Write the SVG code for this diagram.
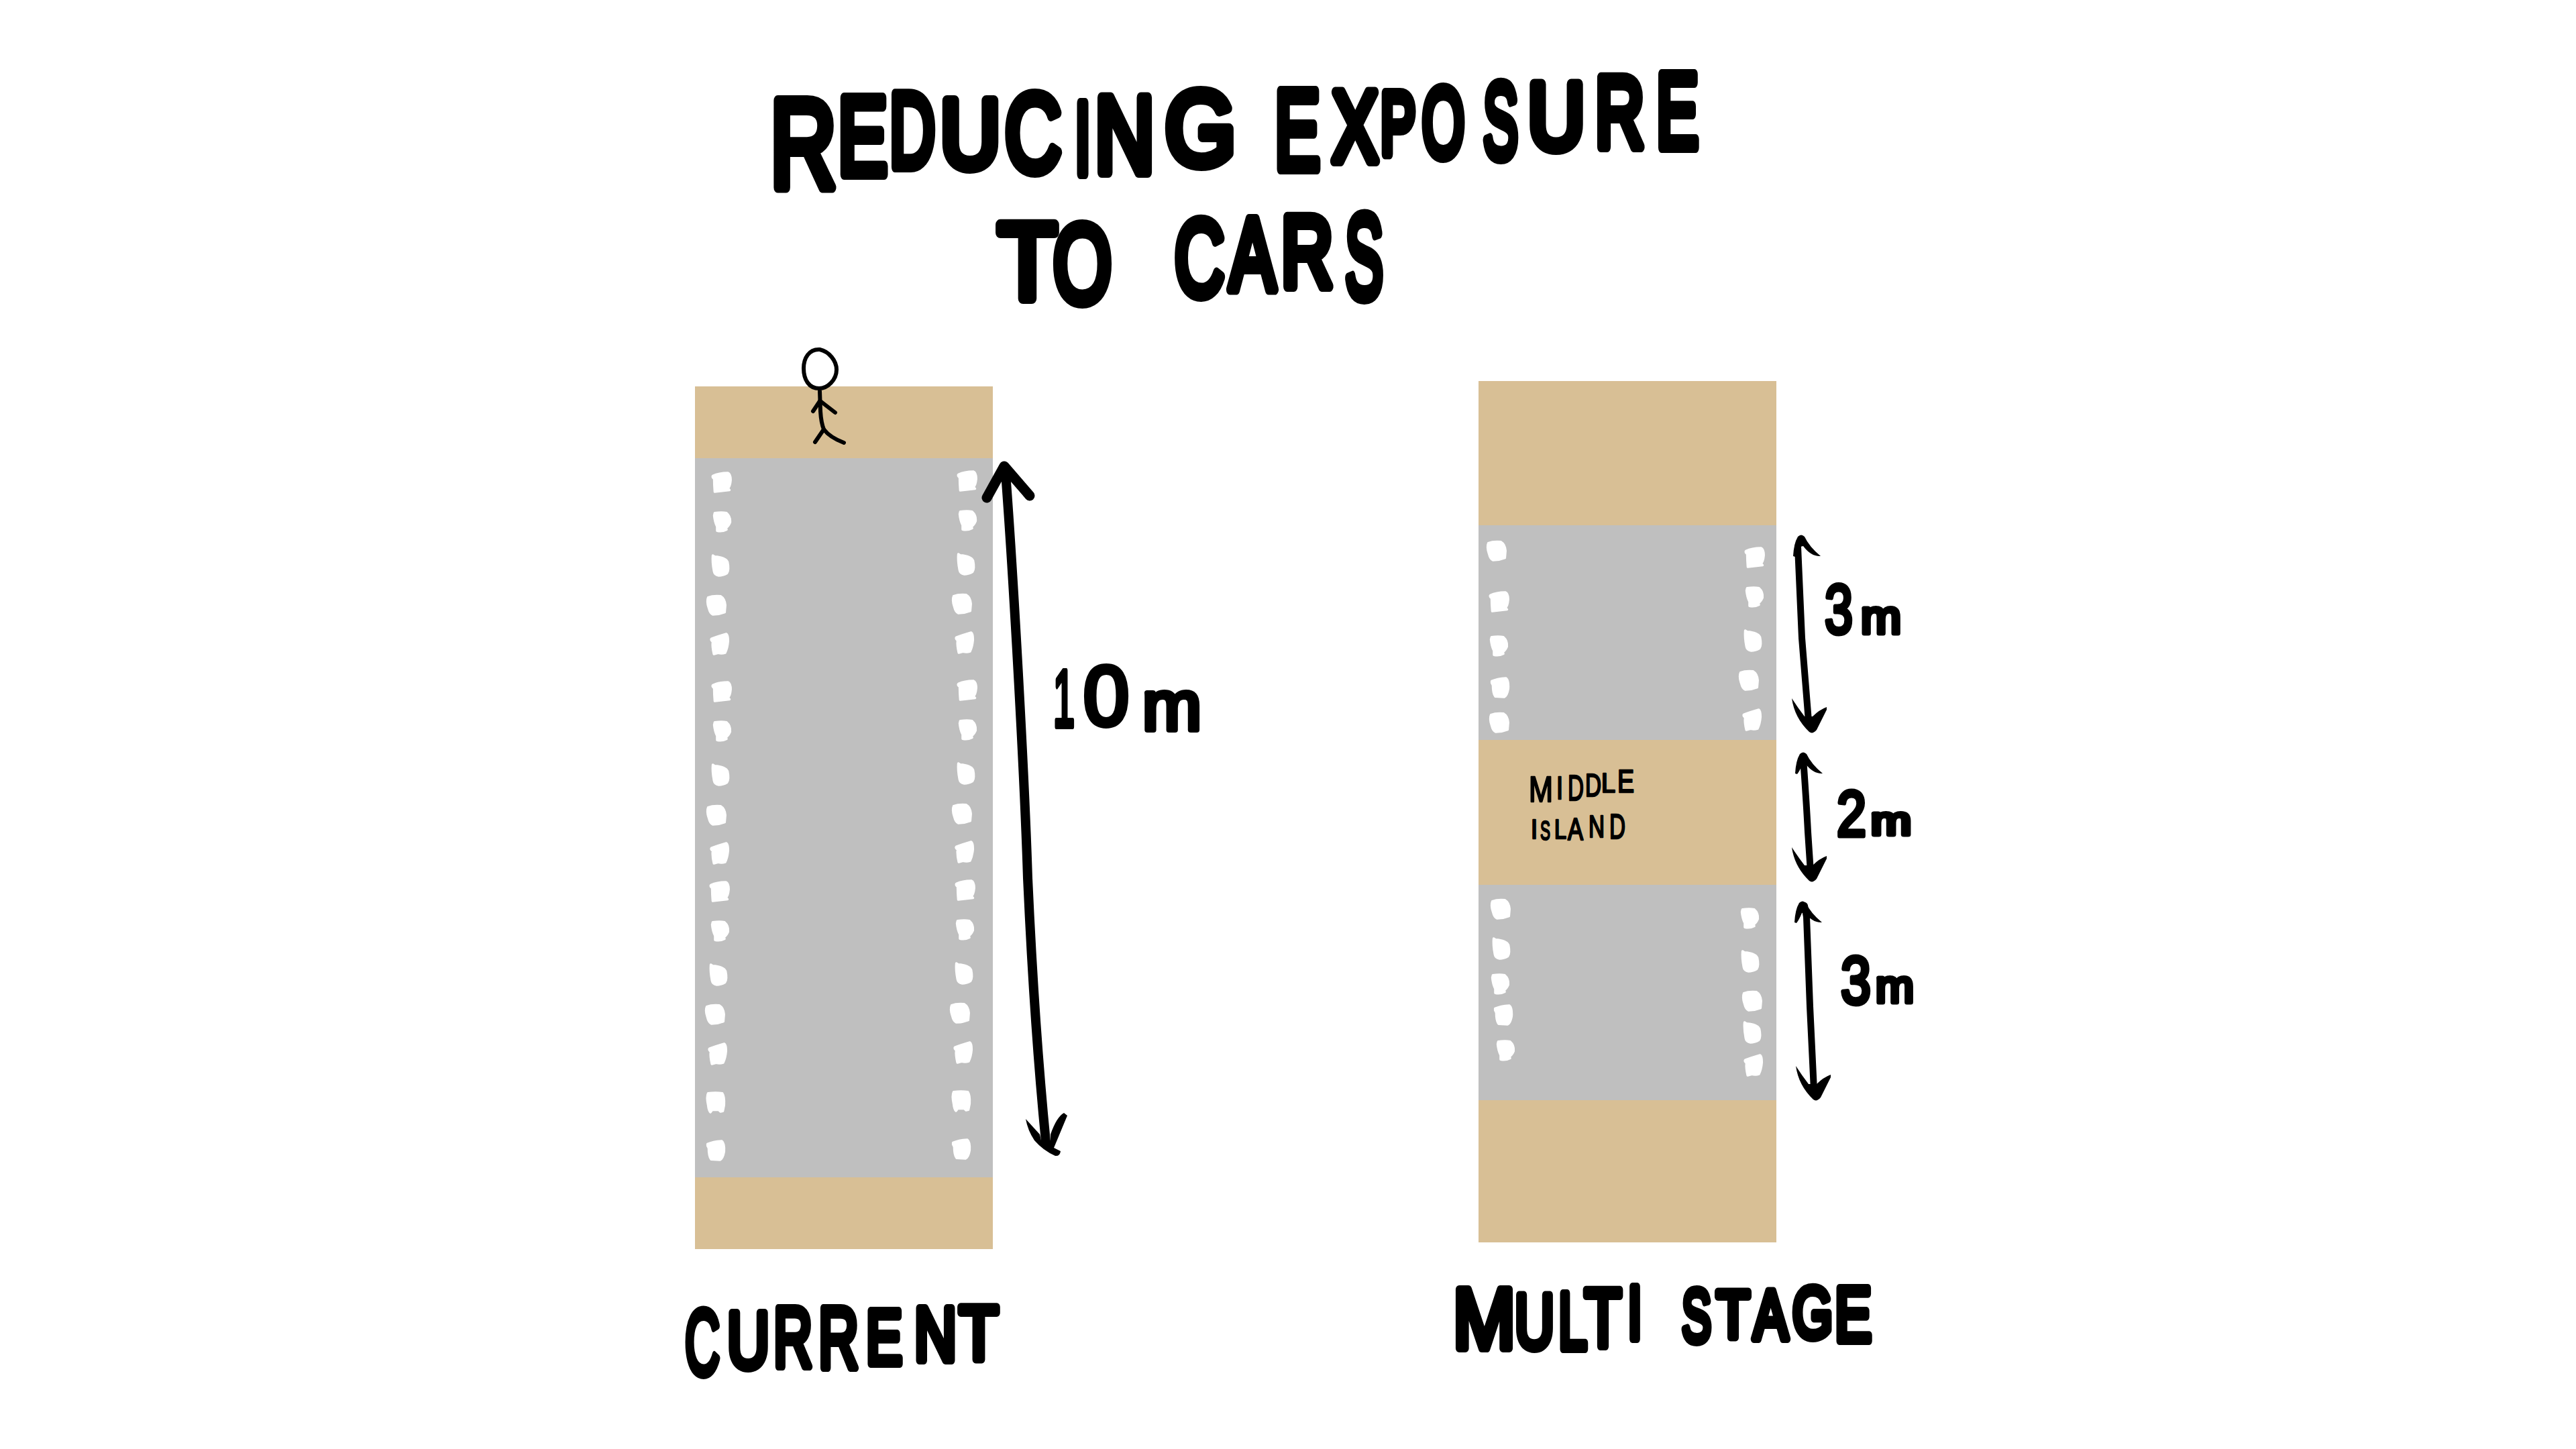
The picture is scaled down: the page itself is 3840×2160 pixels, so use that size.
<svg xmlns="http://www.w3.org/2000/svg" width="3840" height="2160" viewBox="0 0 3840 2160">
<style>
.tan{fill:#d8bf95}.grey{fill:#bfbfbf}
.dot{fill:#fff;stroke:#fff;stroke-width:4;stroke-linejoin:round}
.ink{fill:#000}.line{fill:none;stroke:#000;stroke-linecap:round;stroke-linejoin:round}
text{font-family:"Liberation Sans",Arial,sans-serif;fill:#000;stroke:#000;stroke-linejoin:round;stroke-linecap:round}
.big{stroke-width:16}.lab{stroke-width:12}
.num{stroke-width:7}.small{stroke-width:2.5}
</style>
<defs>
<path id="d1" transform="scale(.88)" d="M-15-11Q-5-16 10-16Q15-14 15-4Q14 8 10 10L13 13L-12 16Q-13 4-13-6Q-17-9-15-11Z"/>
<path id="d2" transform="scale(.88)" d="M-12-15Q0-17 8-15Q15-9 14 1Q11 8 7 10L8 13Q0 17-8 15L-8 8Q-12 0-13-11Z"/>
<path id="d3" transform="scale(.88)" d="M-13-17L-10-15Q8-14 12-6Q15 8 11 13Q4 17-3 17Q-10 16-11 10Q-14-6-13-17Z"/>
<path id="d4" transform="scale(.88)" d="M-14-13Q-6-16 7-15Q14-11 15 0L14 12Q4 16-6 16Q-11 14-13 5Q-17-6-14-13Z"/>
<path id="d5" transform="scale(.88)" d="M-14-9Q-6-12 11-17Q14-15 14-5Q13 7 9 15Q3 17-3 15L-10 17Q-13 5-12-4Q-16-7-14-9Z"/>
<path id="d6" transform="scale(.88)" d="M-13-15Q0-17 11-15Q15-9 14 5L12 15L8 16L5 13L-6 13L-9 17Q-12 15-13 5Q-16-9-13-15Z"/>
<path id="d7" transform="scale(.88)" d="M-14-11Q-5-15 10-16Q15-12 14 2Q12 14 7 16L-8 15Q-12 10-12-4L-14-8Z"/>
<path id="head-top" d="M-12 32Q-11 13-5 3Q0-2 5 3Q12 18 29 32Q15 33 3 17L-1 18Q-5 28-9 33Z"/>
<path id="head-bot" d="M-29-51Q-20-37-10-24L2-24Q12-34 23-38L23-34L8-4Q2 3-3-1Q-25-22-29-51Z"/>
</defs>
<rect width="3840" height="2160" fill="#fff"/>

<g id="title">
<text class="big"><tspan x="1148" y="280" font-size="187" textLength="99" lengthAdjust="spacingAndGlyphs">R</tspan><tspan x="1249" y="260" font-size="165" textLength="74" lengthAdjust="spacingAndGlyphs">E</tspan><tspan x="1326" y="249" font-size="158" textLength="68" lengthAdjust="spacingAndGlyphs">D</tspan><tspan x="1402" y="250" font-size="145" textLength="89" lengthAdjust="spacingAndGlyphs">U</tspan><tspan x="1498" y="255" font-size="165" textLength="84" lengthAdjust="spacingAndGlyphs">C</tspan><tspan x="1602" y="259" font-size="153" textLength="24" lengthAdjust="spacingAndGlyphs">I</tspan><tspan x="1632" y="257" font-size="161" textLength="89" lengthAdjust="spacingAndGlyphs">N</tspan><tspan x="1737" y="245" font-size="155" textLength="105" lengthAdjust="spacingAndGlyphs">G</tspan> <tspan x="1900" y="252" font-size="168" textLength="68" lengthAdjust="spacingAndGlyphs">E</tspan><tspan x="1986" y="240" font-size="148" textLength="68" lengthAdjust="spacingAndGlyphs">X</tspan><tspan x="2058" y="229" font-size="131" textLength="52" lengthAdjust="spacingAndGlyphs">P</tspan><tspan x="2120" y="234" font-size="146" textLength="63" lengthAdjust="spacingAndGlyphs">O</tspan><tspan x="2211" y="235" font-size="159" textLength="52" lengthAdjust="spacingAndGlyphs">S</tspan><tspan x="2278" y="222" font-size="139" textLength="84" lengthAdjust="spacingAndGlyphs">U</tspan><tspan x="2378" y="219" font-size="150" textLength="73" lengthAdjust="spacingAndGlyphs">R</tspan><tspan x="2469" y="220" font-size="158" textLength="63" lengthAdjust="spacingAndGlyphs">E</tspan></text>
<text class="big"><tspan x="1488" y="445" font-size="159" textLength="87" lengthAdjust="spacingAndGlyphs">T</tspan><tspan x="1570" y="450" font-size="166" textLength="87" lengthAdjust="spacingAndGlyphs">O</tspan> <tspan x="1751" y="440" font-size="162" textLength="74" lengthAdjust="spacingAndGlyphs">C</tspan><tspan x="1833" y="432" font-size="153" textLength="68" lengthAdjust="spacingAndGlyphs">A</tspan><tspan x="1910" y="427" font-size="150" textLength="77" lengthAdjust="spacingAndGlyphs">R</tspan><tspan x="2005" y="444" font-size="178" textLength="57" lengthAdjust="spacingAndGlyphs">S</tspan></text>
</g>

<g id="road-current">
<rect class="tan" x="1036" y="576" width="444" height="107"/>
<rect class="grey" x="1036" y="683" width="444" height="1072"/>
<rect class="tan" x="1036" y="1755" width="444" height="107"/>
<g class="dot">
<use href="#d1" x="1076" y="719"/><use href="#d2" x="1076" y="778"/><use href="#d3" x="1074" y="843"/><use href="#d4" x="1068" y="902"/><use href="#d5" x="1073" y="960"/><use href="#d1" x="1076" y="1031"/><use href="#d2" x="1076" y="1090"/><use href="#d3" x="1074" y="1155"/><use href="#d4" x="1068" y="1215"/><use href="#d5" x="1073" y="1272"/><use href="#d1" x="1073" y="1329"/><use href="#d2" x="1073" y="1388"/><use href="#d3" x="1071" y="1453"/><use href="#d4" x="1066" y="1512"/><use href="#d5" x="1070" y="1571"/><use href="#d6" x="1067" y="1643"/><use href="#d7" x="1067" y="1715"/>
<use href="#d1" x="1442" y="717"/><use href="#d2" x="1442" y="776"/><use href="#d3" x="1440" y="841"/><use href="#d4" x="1434" y="900"/><use href="#d5" x="1438" y="958"/><use href="#d1" x="1442" y="1029"/><use href="#d2" x="1442" y="1088"/><use href="#d3" x="1440" y="1153"/><use href="#d4" x="1434" y="1213"/><use href="#d5" x="1438" y="1270"/><use href="#d1" x="1439" y="1327"/><use href="#d2" x="1438" y="1386"/><use href="#d3" x="1437" y="1451"/><use href="#d4" x="1431" y="1510"/><use href="#d5" x="1436" y="1569"/><use href="#d6" x="1433" y="1641"/><use href="#d7" x="1433" y="1713"/>
</g>
</g>

<g id="person" class="line" stroke-width="6">
<path d="M1222 521C1236 524 1247 538 1247 551C1247 566 1234 579 1221 579C1206 579 1198 566 1198 549C1198 534 1206 520 1222 521Z"/>
<path d="M1222 583L1223 613Q1224 630 1228 640"/>
<path d="M1222 598L1212 613M1223 598L1245 615"/>
<path d="M1228 640L1215 659M1228 640Q1237 652 1258 660"/>
</g>

<g id="road-multi">
<rect class="tan" x="2204" y="568" width="444" height="215"/>
<rect class="grey" x="2204" y="783" width="444" height="320"/>
<rect class="tan" x="2204" y="1103" width="444" height="216"/>
<rect class="grey" x="2204" y="1319" width="444" height="321"/>
<rect class="tan" x="2204" y="1640" width="444" height="212"/>
<g class="dot">
<use href="#d4" x="2231" y="821"/><use href="#d1" x="2235" y="897"/><use href="#d2" x="2234" y="963"/><use href="#d7" x="2236" y="1025"/><use href="#d4" x="2235" y="1077"/>
<use href="#d1" x="2616" y="831"/><use href="#d2" x="2615" y="890"/><use href="#d3" x="2613" y="955"/><use href="#d4" x="2607" y="1014"/><use href="#d5" x="2612" y="1073"/>
<use href="#d4" x="2237" y="1355"/><use href="#d3" x="2238" y="1414"/><use href="#d2" x="2236" y="1467"/><use href="#d7" x="2241" y="1513"/><use href="#d2" x="2244" y="1566"/>
<use href="#d2" x="2608" y="1369"/><use href="#d3" x="2609" y="1433"/><use href="#d4" x="2612" y="1492"/><use href="#d3" x="2612" y="1539"/><use href="#d5" x="2614" y="1588"/>
</g>
</g>

<g id="label-middle-island">
<text class="small"><tspan x="2279" y="1195" font-size="54" textLength="36" lengthAdjust="spacingAndGlyphs">M</tspan><tspan x="2320" y="1191" font-size="48" textLength="10" lengthAdjust="spacingAndGlyphs">I</tspan><tspan x="2337" y="1193" font-size="54" textLength="24" lengthAdjust="spacingAndGlyphs">D</tspan><tspan x="2363" y="1187" font-size="48" textLength="24" lengthAdjust="spacingAndGlyphs">D</tspan><tspan x="2387" y="1181" font-size="40" textLength="21" lengthAdjust="spacingAndGlyphs">L</tspan><tspan x="2411" y="1181" font-size="48" textLength="25" lengthAdjust="spacingAndGlyphs">E</tspan></text>
<text class="small"><tspan x="2282" y="1250" font-size="40" textLength="10" lengthAdjust="spacingAndGlyphs">I</tspan><tspan x="2296" y="1252" font-size="40" textLength="15" lengthAdjust="spacingAndGlyphs">S</tspan><tspan x="2317" y="1250" font-size="40" textLength="18" lengthAdjust="spacingAndGlyphs">L</tspan><tspan x="2337" y="1252" font-size="46" textLength="23" lengthAdjust="spacingAndGlyphs">A</tspan><tspan x="2368" y="1248" font-size="46" textLength="24" lengthAdjust="spacingAndGlyphs">N</tspan><tspan x="2399" y="1250" font-size="51" textLength="24" lengthAdjust="spacingAndGlyphs">D</tspan></text>
</g>

<g id="connectors">
<path class="line" stroke-width="14" d="M1499 705C1510 850 1527 1150 1532 1309C1537 1420 1545 1560 1559 1702"/>
<path class="line" stroke-width="15" d="M1471 742L1497 695L1535 739"/>
<path class="ink" d="M1529 1668L1550 1691L1552 1700L1566 1700L1566 1691Q1575 1665 1586 1659L1591 1663L1571 1711L1581 1716Q1580 1724 1573 1723Q1555 1715 1542 1700Q1532 1685 1529 1668Z"/>
<path class="line" stroke-width="10" d="M2680 815L2686 951L2696 1075"/>
<use class="ink" href="#head-top" x="2685" y="797"/><use class="ink" href="#head-bot" x="2700" y="1092"/>
<path class="line" stroke-width="10" d="M2688 1130Q2693 1200 2695 1240L2699 1300"/>
<use class="ink" href="#head-top" x="2688" y="1121"/><use class="ink" href="#head-bot" x="2700" y="1314"/>
<path class="line" stroke-width="10" d="M2690 1350L2693 1367Q2697 1480 2698 1500L2704 1625"/>
<use class="ink" href="#head-top" x="2687" y="1343"/><use class="ink" href="#head-bot" x="2706" y="1640"/>
</g>

<g id="label-10m"><text class="num" style="stroke-width:8"><tspan x="1570" y="1083" font-size="120" textLength="32" lengthAdjust="spacingAndGlyphs">1</tspan><tspan x="1615" y="1081" font-size="127" textLength="68" lengthAdjust="spacingAndGlyphs">0</tspan><tspan x="1703" y="1088" font-size="104" textLength="88" lengthAdjust="spacingAndGlyphs">m</tspan></text></g>
<g id="label-3m-a"><text class="num"><tspan x="2720" y="944" font-size="104" textLength="42" lengthAdjust="spacingAndGlyphs">3</tspan><tspan x="2774" y="944" font-size="71" textLength="60" lengthAdjust="spacingAndGlyphs">m</tspan></text></g>
<g id="label-2m"><text class="num"><tspan x="2738" y="1246" font-size="97" textLength="44" lengthAdjust="spacingAndGlyphs">2</tspan><tspan x="2789" y="1244" font-size="60" textLength="60" lengthAdjust="spacingAndGlyphs">m</tspan></text></g>
<g id="label-3m-b"><text class="num"><tspan x="2744" y="1496" font-size="101" textLength="45" lengthAdjust="spacingAndGlyphs">3</tspan><tspan x="2796" y="1494" font-size="69" textLength="57" lengthAdjust="spacingAndGlyphs">m</tspan></text></g>

<g id="label-current"><text class="lab"><tspan x="1021" y="2049" font-size="138" textLength="52" lengthAdjust="spacingAndGlyphs">C</tspan><tspan x="1084" y="2039" font-size="118" textLength="63" lengthAdjust="spacingAndGlyphs">U</tspan><tspan x="1153" y="2037" font-size="126" textLength="58" lengthAdjust="spacingAndGlyphs">R</tspan><tspan x="1220" y="2039" font-size="129" textLength="60" lengthAdjust="spacingAndGlyphs">R</tspan><tspan x="1291" y="2033" font-size="115" textLength="54" lengthAdjust="spacingAndGlyphs">E</tspan><tspan x="1363" y="2028" font-size="113" textLength="63" lengthAdjust="spacingAndGlyphs">N</tspan><tspan x="1430" y="2026" font-size="113" textLength="58" lengthAdjust="spacingAndGlyphs">T</tspan></text></g>
<g id="label-multi-stage"><text class="lab"><tspan x="2166" y="2010" font-size="128" textLength="93" lengthAdjust="spacingAndGlyphs">M</tspan><tspan x="2258" y="2010" font-size="115" textLength="59" lengthAdjust="spacingAndGlyphs">U</tspan><tspan x="2323" y="2011" font-size="121" textLength="43" lengthAdjust="spacingAndGlyphs">L</tspan><tspan x="2362" y="2007" font-size="122" textLength="55" lengthAdjust="spacingAndGlyphs">T</tspan><tspan x="2426" y="1996" font-size="113" textLength="22" lengthAdjust="spacingAndGlyphs">I</tspan> <tspan x="2507" y="2000" font-size="112" textLength="44" lengthAdjust="spacingAndGlyphs">S</tspan><tspan x="2559" y="1993" font-size="99" textLength="49" lengthAdjust="spacingAndGlyphs">T</tspan><tspan x="2614" y="1996" font-size="103" textLength="51" lengthAdjust="spacingAndGlyphs">A</tspan><tspan x="2672" y="1994" font-size="108" textLength="60" lengthAdjust="spacingAndGlyphs">G</tspan><tspan x="2735" y="1999" font-size="115" textLength="55" lengthAdjust="spacingAndGlyphs">E</tspan></text></g>
</svg>
